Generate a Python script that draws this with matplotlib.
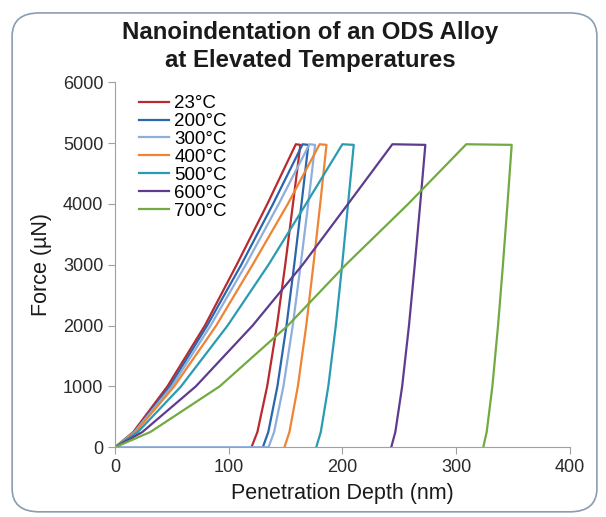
import matplotlib.pyplot as plt
from matplotlib.patches import FancyBboxPatch

# dati: carico, tenuta, scarico per ogni temperatura
etichette = ['23°C', '200°C', '300°C', '400°C', '500°C', '600°C', '700°C']
colori = ['#b82a2e', '#2a66ad', '#8eaedc', '#ee8434', '#2a9bb2', '#5e3b8f', '#72aa42']

forza_carico = [0, 250, 1000, 2000, 3000, 4000, 4980]
forza_scarico = [4970, 4000, 3000, 2000, 1000, 250, 0]

prof_carico = [
    [0, 16, 46, 79, 107, 134, 159],
    [0, 17, 48, 81, 111, 139, 165],
    [0, 17, 50, 84, 115, 144, 171],
    [0, 18, 52, 89, 121, 152, 180],
    [0, 20, 58, 99, 135, 168, 200],
    [0, 24, 71, 121, 165, 205, 244],
    [0, 31, 92, 152, 203, 258, 309],
]
prof_scarico = [
    [163, 156.5, 149.7, 142.4, 133.8, 125.2, 120],
    [170, 164, 157.6, 150.8, 142.8, 134.8, 130],
    [176, 169.9, 163.3, 156.3, 148.1, 139.9, 135],
    [186, 180.5, 174.5, 168.2, 160.8, 153.4, 149],
    [210, 205, 199.8, 194.2, 187.6, 181, 177],
    [273, 268.5, 263.7, 258.6, 252.6, 246.6, 243],
    [349, 345.3, 341.3, 337, 332, 327, 324],
]

plt.rcParams['font.family'] = ['Liberation Sans', 'DejaVu Sans']

fig = plt.figure(figsize=(6.06, 5.17), dpi=100)
bordo = FancyBboxPatch((0.02, 0.01), 0.965, 0.965, boxstyle='round,pad=0,rounding_size=0.045',
                       transform=fig.transFigure, facecolor='none', edgecolor='#8a9db0',
                       linewidth=1.2, zorder=-1)
fig.patches.append(bordo)

ax = fig.add_axes([0.19, 0.135, 0.75, 0.706])
ax.patch.set_alpha(0)
for i, et in enumerate(etichette):
    x = prof_carico[i] + prof_scarico[i]
    y = forza_carico + forza_scarico
    if et == '300°C':
        # la curva a 300°C torna a zero lungo l'asse
        x = x + [0]
        y = y + [0]
    ax.plot(x, y, color=colori[i], linewidth=1.6, label=et)

ax.set_xlim(0, 400)
ax.set_ylim(0, 6000)
ax.set_xticks([0, 100, 200, 300, 400])
ax.set_yticks(range(0, 6001, 1000))
for s in ['top', 'right']:
    ax.spines[s].set_visible(False)
for s in ['left', 'bottom']:
    ax.spines[s].set_color('#a0a0a0')
ax.tick_params(colors='#a0a0a0', labelcolor='#2a2a2a', labelsize=13, length=5)
ax.set_xlabel('Penetration Depth (nm)', fontsize=15.5, color='#1a1a1a', labelpad=5)
ax.set_ylabel('Force (µN)', fontsize=15.5, color='#1a1a1a', labelpad=8)

ax.legend(loc='upper left', bbox_to_anchor=(0.035, 0.985), frameon=False, fontsize=13.5,
          handlelength=1.6, handletextpad=0.3, labelspacing=0.04, borderaxespad=0)

fig.text(0.512, 0.91, 'Nanoindentation of an ODS Alloy\nat Elevated Temperatures',
         ha='center', va='center', fontsize=17.3, fontweight='bold', linespacing=1.28,
         color='#1a1a1a')

fig.savefig('out.png', dpi=100)
